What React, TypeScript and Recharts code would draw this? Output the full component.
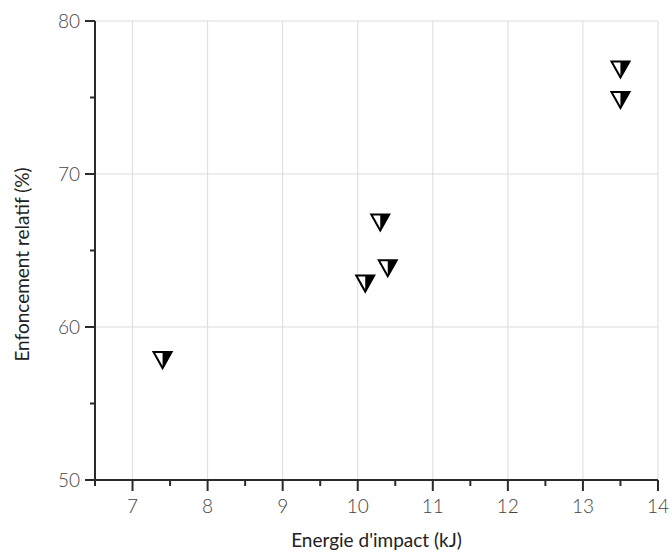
import React from 'react';
import { ScatterChart, Scatter, XAxis, YAxis, CartesianGrid, Label } from 'recharts';

const energy = [7.4, 10.1, 10.3, 10.4, 13.5, 13.5];
const enfoncement = [58, 63, 67, 64, 77, 75];
const xTicks = [6.5, 7, 7.5, 8, 8.5, 9, 9.5, 10, 10.5, 11, 11.5, 12, 12.5, 13, 13.5, 14];
const yTicks = [50, 55, 60, 65, 70, 75, 80];
const xGrid = [7, 8, 9, 10, 11, 12, 13, 14];
const yGrid = [60, 70, 80];

const data = energy.map((e, i) => ({ x: e, y: enfoncement[i] }));

const FONT = 'Lato, "DejaVu Sans", sans-serif';
const AXIS = '#2b2b2b';
const TXT = '#444';

const XTick = (props: any) => {
  const { x, y, payload } = props;
  const v = payload.value;
  const major = Number.isInteger(v);
  const showLabel = major && v >= 7;
  return (
    <g>
      <line x1={x} x2={x} y1={y} y2={y + (major ? 11 : 6)} stroke={AXIS} strokeWidth={2} />
      {showLabel && (
        <text x={x} y={y + 33} textAnchor="middle" fontSize={19} fill={TXT} fontFamily={FONT} fontWeight={300}>
          {v}
        </text>
      )}
    </g>
  );
};

const YTick = (props: any) => {
  const { x, y, payload } = props;
  const v = payload.value;
  const major = v % 10 === 0;
  return (
    <g>
      <line x1={x} x2={x - (major ? 10 : 5)} y1={y} y2={y} stroke={AXIS} strokeWidth={2} />
      {major && (
        <text x={x - 15} y={y + 7} textAnchor="end" fontSize={19} fill={TXT} fontFamily={FONT} fontWeight={300}>
          {v}
        </text>
      )}
    </g>
  );
};

const Marker = (props: any) => {
  const { cx, cy } = props;
  const w = 9;
  const top = cy - 5.5;
  const bot = cy + 10.5;
  return (
    <g>
      <polygon
        points={`${cx - w},${top} ${cx + w},${top} ${cx},${bot}`}
        fill="#fff"
        stroke="#000"
        strokeWidth={2}
        strokeLinejoin="miter"
      />
      <polygon points={`${cx},${top} ${cx + w},${top} ${cx},${bot}`} fill="#000" />
    </g>
  );
};

export default function App() {
  return (
    <div style={{ position: 'absolute', left: 0, top: 0 }}>
      <ScatterChart width={672} height={555} margin={{ top: 21, right: 14, bottom: 0, left: 0 }}>
        <CartesianGrid
          stroke="#dcdcdc"
          strokeWidth={1}
          verticalValues={xGrid}
          horizontalValues={yGrid}
        />
        <XAxis
          type="number"
          dataKey="x"
          domain={[6.5, 14]}
          ticks={xTicks}
          interval={0}
          tickSize={0}
          tickMargin={0}
          tick={<XTick />}
          tickLine={false}
          axisLine={{ stroke: AXIS, strokeWidth: 2 }}
          height={75}
          allowDataOverflow
        >
          <Label value="Energie d'impact (kJ)" position="insideBottom" offset={8} fill="#222" fontSize={19} fontFamily={FONT} />
        </XAxis>
        <YAxis
          type="number"
          dataKey="y"
          domain={[50, 80]}
          ticks={yTicks}
          interval={0}
          tickSize={0}
          tickMargin={0}
          tick={<YTick />}
          tickLine={false}
          axisLine={{ stroke: AXIS, strokeWidth: 2 }}
          width={95}
          allowDataOverflow
        >
          <Label value="Enfoncement relatif (%)" angle={-90} position="insideLeft" offset={20} dx={2} dy={14} fill="#222" fontSize={19} fontFamily={FONT} style={{ textAnchor: 'middle' }} />
        </YAxis>
        <Scatter data={data} shape={<Marker />} isAnimationActive={false} />
      </ScatterChart>
    </div>
  );
}
